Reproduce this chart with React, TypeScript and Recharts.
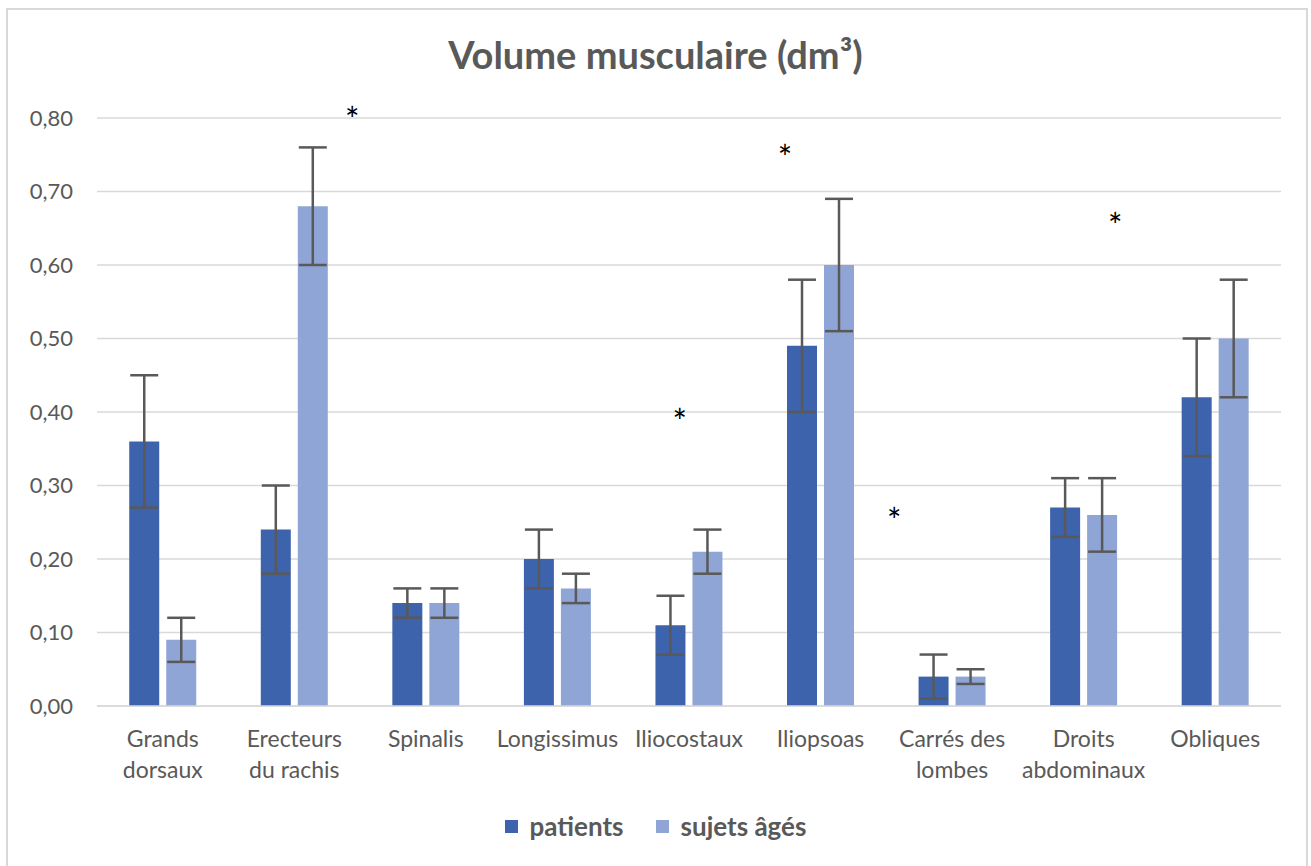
import { Bar, BarChart, CartesianGrid, ErrorBar, Legend, ReferenceDot, XAxis, YAxis } from "recharts";

const categories = ["Grands dorsaux", "Erecteurs du rachis", "Spinalis", "Longissimus", "Iliocostaux", "Iliopsoas", "Carrés des lombes", "Droits abdominaux", "Obliques"];
const tickLabels = [["Grands", "dorsaux"], ["Erecteurs", "du rachis"], ["Spinalis"], ["Longissimus"], ["Iliocostaux"], ["Iliopsoas"], ["Carrés des", "lombes"], ["Droits", "abdominaux"], ["Obliques"]];
const patients = [0.36, 0.24, 0.14, 0.2, 0.11, 0.49, 0.04, 0.27, 0.42];
const patientsErr = [0.09, 0.06, 0.02, 0.04, 0.04, 0.09, 0.03, 0.04, 0.08];
const sujets = [0.09, 0.68, 0.14, 0.16, 0.21, 0.6, 0.04, 0.26, 0.5];
const sujetsErr = [0.03, 0.08, 0.02, 0.02, 0.03, 0.09, 0.01, 0.05, 0.08];
const yTicks = [0, 0.1, 0.2, 0.3, 0.4, 0.5, 0.6, 0.7, 0.8];

// asterisks: position along the category axis (0..9) and value
const starPos = [1.94, 5.23, 4.43, 6.06, 7.74];
const starVal = [0.808, 0.757, 0.397, 0.263, 0.664];

const series = [
    { key: "patients", err: "patientsErr", name: "patients", color: "#3C63AB" },
    { key: "sujets", err: "sujetsErr", name: "sujets âgés", color: "#8FA5D5" },
];

const data = categories.map((name, i) => ({
    name,
    patients: patients[i],
    patientsErr: patientsErr[i],
    sujets: sujets[i],
    sujetsErr: sujetsErr[i],
}));

const FONT = "Lato, 'Open Sans', sans-serif";
const TEXT = "#595959";

function CategoryTick({ x, y, payload }: any) {
    const lines = tickLabels[payload.index] ?? [payload.value];
    return (
        <text x={x} y={y} textAnchor="middle" fill={TEXT} fontSize={23} fontFamily={FONT}>
            {lines.map((l, i) => (
                <tspan key={i} x={x} dy={i === 0 ? 33 : 31}>{l}</tspan>
            ))}
        </text>
    );
}

function LegendContent() {
    return (
        <div style={{ display: "flex", justifyContent: "center", gap: 32, fontFamily: FONT, fontWeight: 700, fontSize: 26, color: TEXT }}>
            {series.map(s => (
                <div key={s.key} style={{ display: "flex", alignItems: "center", gap: 12 }}>
                    <span style={{ width: 13, height: 13, background: s.color, display: "inline-block" }} />
                    <span>{s.name}</span>
                </div>
            ))}
        </div>
    );
}

const Star = (props: any) => (
    <text x={props.cx} y={props.cy + 20} textAnchor="middle" fontSize={34} fontFamily={FONT} fill="#000">*</text>
);

export default function App() {
    return (
        <div style={{ position: "absolute", left: 0, top: 0, width: 1311, height: 866, overflow: "hidden", background: "#fff" }}>
            <div style={{ position: "absolute", left: 6, top: 8, width: 1298, height: 862, border: "2px solid #d9d9d9" }} />
            <div style={{ position: "absolute", left: 0, top: 31, width: 1311, textAlign: "center", fontFamily: FONT, fontWeight: 700, fontSize: 38, color: TEXT }}>
                Volume musculaire (dm³)
            </div>
            <BarChart
                width={1311}
                height={866}
                data={data}
                margin={{ top: 118, right: 30, left: 0, bottom: 80 }}
                barGap={7}
                barCategoryGap="24.5%"
                style={{ position: "absolute", left: 0, top: 0 }}
            >
                <CartesianGrid vertical={false} stroke="#d9d9d9" strokeWidth={1.5} />
                <XAxis dataKey="name" height={80} axisLine={{ stroke: "#d9d9d9", strokeWidth: 1.5 }} tickLine={false} interval={0} tick={<CategoryTick />} />
                <XAxis xAxisId="ann" dataKey="annPos" type="number" scale="linear" domain={[0, 9]} allowDataOverflow hide />
                <YAxis
                    width={97}
                    domain={[0, 0.8]}
                    ticks={yTicks}
                    axisLine={false}
                    tickLine={false}
                    tickMargin={18}
                    tickFormatter={(v: number) => v.toFixed(2).replace(".", ",")}
                    tick={{ fill: TEXT, fontSize: 22, fontFamily: FONT }}
                />
                <Legend layout="vertical" align="center" verticalAlign="middle" content={<LegendContent />} wrapperStyle={{ top: 810, left: 0, width: 1311 }} />
                {series.map(s => (
                    <Bar key={s.key} dataKey={s.key} name={s.name} fill={s.color} isAnimationActive={false}>
                        <ErrorBar dataKey={s.err} width={14} stroke="#595959" strokeWidth={2.5} />
                    </Bar>
                ))}
                {starPos.map((p, i) => (
                    <ReferenceDot key={i} xAxisId="ann" x={p} y={starVal[i]} r={0} shape={<Star />} ifOverflow="visible" />
                ))}
            </BarChart>
        </div>
    );
}
